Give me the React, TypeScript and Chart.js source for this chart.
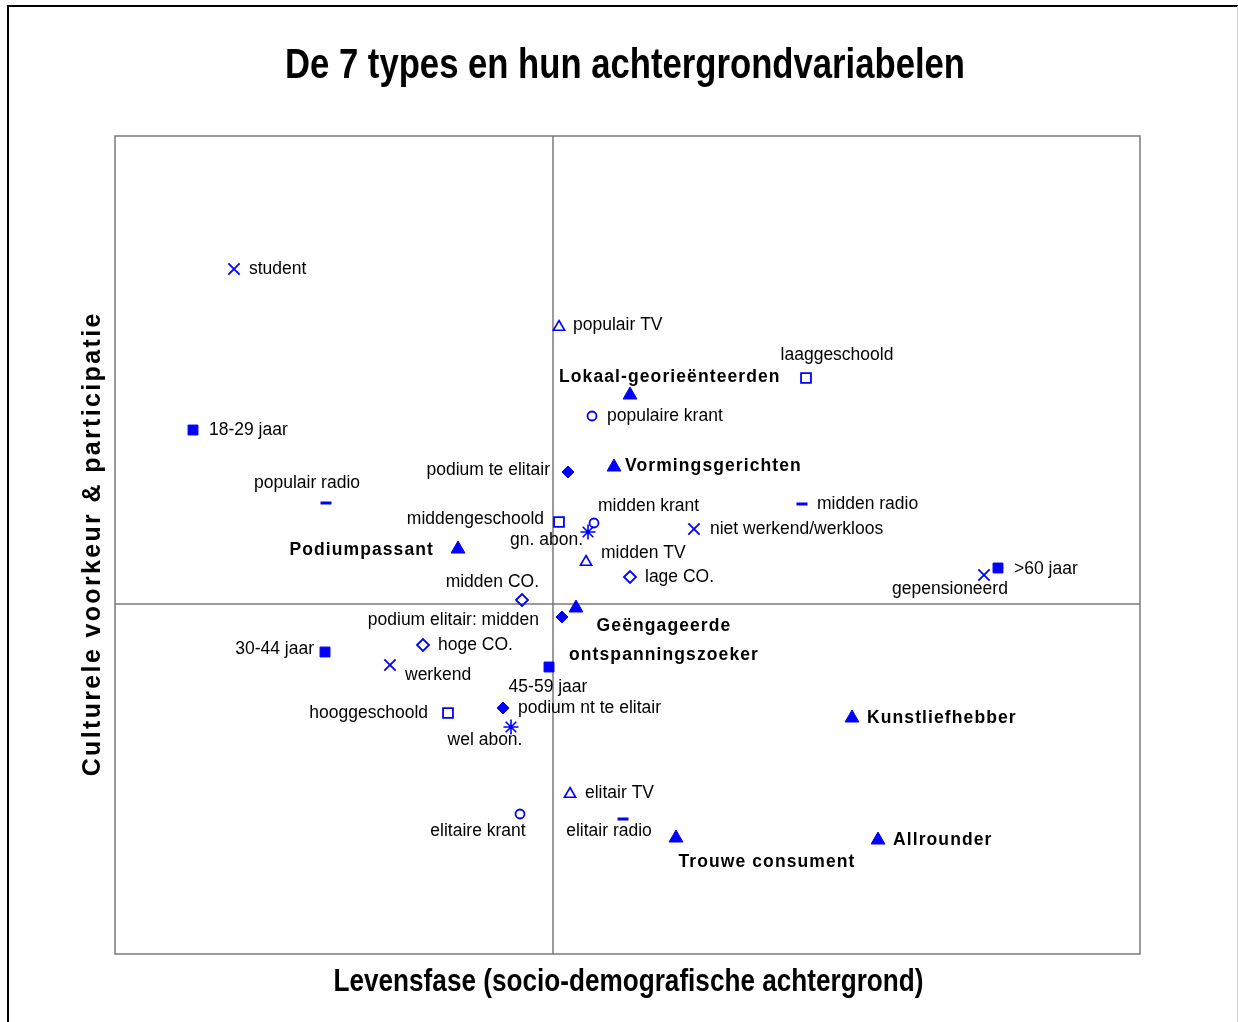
import React, { useEffect, useRef } from 'react';
import { Chart, registerables } from 'chart.js';
Chart.register(...registerables);

const TITLE = 'De 7 types en hun achtergrondvariabelen';
const X_TITLE = 'Levensfase (socio-demografische achtergrond)';
const Y_TITLE = 'Culturele voorkeur & participatie';

const X_MIN = -4.38;
const X_MAX = 5.87;
const Y_MIN = -3.5;
const Y_MAX = 4.68;

// Leeftijd (filled square)
const ageLabels = ['18-29 jaar', '30-44 jaar', '45-59 jaar', '>60 jaar'];
const ageX = [-3.6, -2.28, -0.04, 4.45];
const ageY = [1.74, -0.48, -0.63, 0.36];

// Beroep (X)
const jobLabels = ['student', 'werkend', 'niet werkend/werkloos', 'gepensioneerd'];
const jobX = [-3.19, -1.63, 1.41, 4.31];
const jobY = [3.35, -0.61, 0.75, 0.29];

// Opleiding (open square)
const eduLabels = ['laaggeschoold', 'middengeschoold', 'hooggeschoold'];
const eduX = [2.53, 0.06, -1.05];
const eduY = [2.26, 0.82, -1.09];

// TV (open triangle)
const tvLabels = ['populair TV', 'midden TV', 'elitair TV'];
const tvX = [0.06, 0.33, 0.17];
const tvY = [2.77, 0.42, -1.9];

// Krant (open circle)
const krantLabels = ['populaire krant', 'midden krant', 'elitaire krant'];
const krantX = [0.39, 0.41, -0.33];
const krantY = [1.88, 0.81, -2.1];

// Radio (dash)
const radioLabels = ['populair radio', 'midden radio', 'elitair radio'];
const radioX = [-2.27, 2.49, 0.7];
const radioY = [1.01, 1.0, -2.15];

// Podium (filled diamond)
const podiumLabels = ['podium te elitair', 'podium elitair: midden', 'podium nt te elitair'];
const podiumX = [0.15, 0.09, -0.5];
const podiumY = [1.32, -0.13, -1.04];

// CO (open diamond)
const coLabels = ['lage CO.', 'midden CO.', 'hoge CO.'];
const coX = [0.77, -0.31, -1.3];
const coY = [0.27, 0.04, -0.41];

// Abonnement (star)
const abonLabels = ['gn. abon.', 'wel abon.'];
const abonX = [0.35, -0.42];
const abonY = [0.72, -1.23];

// De 7 types (filled triangle)
const typeLabels = [
  'Lokaal-georieënteerden',
  'Vormingsgerichten',
  'Podiumpassant',
  'Geëngageerde\nontspanningszoeker',
  'Kunstliefhebber',
  'Trouwe consument',
  'Allrounder',
];
const typeX = [0.77, 0.61, -0.95, 0.23, 2.99, 1.23, 3.25];
const typeY = [2.09, 1.37, 0.55, -0.04, -1.14, -2.34, -2.36];

// label placement (pixel offsets from marker, alignment)
const LABEL_PLACEMENT: Record<string, [number, number, CanvasTextAlign]> = {
  'student': [15, 0, 'left'],
  '18-29 jaar': [16, 0, 'left'],
  'populair radio': [-19, -20, 'center'],
  'Podiumpassant': [-24, 1, 'right'],
  'middengeschoold': [-15, -3, 'right'],
  'gn. abon.': [-5, 8, 'right'],
  'midden krant': [4, -17, 'left'],
  'niet werkend/werkloos': [16, 0, 'left'],
  'midden radio': [15, 0, 'left'],
  'podium te elitair': [-18, -2, 'right'],
  'Vormingsgerichten': [11, -1, 'left'],
  'populaire krant': [15, 0, 'left'],
  'Lokaal-georieënteerden': [-71, -18, 'left'],
  'laaggeschoold': [31, -23, 'center'],
  'populair TV': [14, -2, 'left'],
  'midden TV': [15, -9, 'left'],
  'lage CO.': [15, 0, 'left'],
  'midden CO.': [17, -18, 'right'],
  '>60 jaar': [16, 1, 'left'],
  'gepensioneerd': [-34, 14, 'center'],
  'podium elitair: midden': [-23, 3, 'right'],
  'Geëngageerde\nontspanningszoeker': [88, 18, 'center'],
  '30-44 jaar': [-11, -3, 'right'],
  'hoge CO.': [15, 0, 'left'],
  'werkend': [15, 10, 'left'],
  '45-59 jaar': [-1, 20, 'center'],
  'hooggeschoold': [-20, 0, 'right'],
  'podium nt te elitair': [15, 0, 'left'],
  'wel abon.': [-26, 13, 'center'],
  'Kunstliefhebber': [15, 0, 'left'],
  'elitair TV': [15, -1, 'left'],
  'elitaire krant': [-42, 17, 'center'],
  'elitair radio': [-14, 12, 'center'],
  'Trouwe consument': [91, 24, 'center'],
  'Allrounder': [15, 0, 'left'],
};

const BLUE = '#0000ff';
const FONT = '"Liberation Sans", Arial, Helvetica, sans-serif';

function pts(xs: number[], ys: number[]) {
  return xs.map((x, i) => ({ x, y: ys[i] }));
}

function makeSet(label: string, labels: string[], xs: number[], ys: number[], style: any, filled: boolean, radius: number, bw: number, bold = false) {
  return {
    label,
    data: pts(xs, ys),
    pointLabels: labels,
    bold,
    pointStyle: style,
    pointRadius: radius,
    pointHoverRadius: radius,
    pointBackgroundColor: filled ? BLUE : 'rgba(0,0,0,0)',
    pointBorderColor: BLUE,
    pointBorderWidth: bw,
    backgroundColor: filled ? BLUE : 'rgba(0,0,0,0)',
    borderColor: BLUE,
    showLine: false,
  } as any;
}

const framePlugin = {
  id: 'frame',
  beforeDatasetsDraw(chart: any) {
    const { ctx, chartArea: a, scales } = chart;
    ctx.save();
    // outer frame
    ctx.strokeStyle = '#000';
    ctx.lineWidth = 2;
    ctx.beginPath();
    ctx.moveTo(8, 1022);
    ctx.lineTo(8, 6);
    ctx.lineTo(1238, 6);
    ctx.stroke();
    ctx.strokeStyle = '#d0d0d0';
    ctx.lineWidth = 1;
    ctx.beginPath();
    ctx.moveTo(1237.5, 6);
    ctx.lineTo(1237.5, 1022);
    ctx.stroke();
    // plot border
    ctx.strokeStyle = '#7a7a7a';
    ctx.lineWidth = 1.5;
    ctx.strokeRect(a.left, a.top, a.right - a.left, a.bottom - a.top);
    // zero lines
    const x0 = scales.x.getPixelForValue(0);
    const y0 = scales.y.getPixelForValue(0);
    ctx.beginPath();
    ctx.moveTo(x0, a.top);
    ctx.lineTo(x0, a.bottom);
    ctx.moveTo(a.left, y0);
    ctx.lineTo(a.right, y0);
    ctx.stroke();

    // title
    ctx.fillStyle = '#000';
    ctx.textBaseline = 'middle';
    ctx.textAlign = 'center';
    ctx.font = `bold 42px ${FONT}`;
    let w = ctx.measureText(TITLE).width;
    ctx.save();
    ctx.translate(625, 66);
    ctx.scale(680 / w, 1);
    ctx.fillText(TITLE, 0, 0);
    ctx.restore();

    // x title
    ctx.font = `bold 31px ${FONT}`;
    w = ctx.measureText(X_TITLE).width;
    ctx.save();
    ctx.translate((a.left + a.right) / 2 + 1, 982);
    ctx.scale(590 / w, 1);
    ctx.fillText(X_TITLE, 0, 0);
    ctx.restore();

    // y title
    ctx.font = `bold 25px ${FONT}`;
    w = ctx.measureText(Y_TITLE).width;
    const sp = (465 - w) / Y_TITLE.length;
    ctx.save();
    ctx.translate(93, (a.top + a.bottom) / 2);
    ctx.rotate(-Math.PI / 2);
    (ctx as any).letterSpacing = `${sp}px`;
    ctx.fillText(Y_TITLE, sp / 2, 0);
    ctx.restore();
    ctx.restore();
  },
  afterDatasetsDraw(chart: any) {
    const { ctx } = chart;
    ctx.save();
    ctx.fillStyle = '#000';
    ctx.textBaseline = 'middle';
    chart.data.datasets.forEach((ds: any, di: number) => {
      const meta = chart.getDatasetMeta(di);
      ds.pointLabels.forEach((text: string, i: number) => {
        const el = meta.data[i];
        const [dx, dy, align] = LABEL_PLACEMENT[text] || [14, 0, 'left'];
        if (ds.bold) {
          ctx.font = `bold 17.5px ${FONT}`;
          (ctx as any).letterSpacing = '1.1px';
        } else {
          ctx.font = `17.5px ${FONT}`;
          (ctx as any).letterSpacing = '0px';
        }
        ctx.textAlign = align;
        text.split('\n').forEach((line, li) => {
          ctx.fillText(line, el.x + dx, el.y + dy + li * 29);
        });
      });
    });
    ctx.restore();
  },
};

export default function App() {
  const ref = useRef<HTMLCanvasElement>(null);
  useEffect(() => {
    const chart = new Chart(ref.current as HTMLCanvasElement, {
      type: 'scatter',
      data: {
        datasets: [
          makeSet('leeftijd', ageLabels, ageX, ageY, 'rect', true, 7, 1),
          makeSet('beroep', jobLabels, jobX, jobY, 'crossRot', false, 8, 1.8),
          makeSet('opleiding', eduLabels, eduX, eduY, 'rect', false, 7, 1.8),
          makeSet('tv', tvLabels, tvX, tvY, 'triangle', false, 6.5, 1.6),
          makeSet('krant', krantLabels, krantX, krantY, 'circle', false, 4.5, 1.8),
          makeSet('radio', radioLabels, radioX, radioY, 'line', false, 5.5, 3),
          makeSet('podium', podiumLabels, podiumX, podiumY, 'rectRot', true, 6, 1),
          makeSet('co', coLabels, coX, coY, 'rectRot', false, 6, 1.8),
          makeSet('abon', abonLabels, abonX, abonY, 'star', false, 7.5, 1.6),
          makeSet('types', typeLabels, typeX, typeY, 'triangle', true, 8, 1, true),
        ],
      },
      options: {
        responsive: false,
        animation: false,
        devicePixelRatio: 1,
        layout: { padding: { left: 115, right: 98, top: 136, bottom: 68 } },
        scales: {
          x: { type: 'linear', min: X_MIN, max: X_MAX, display: false },
          y: { type: 'linear', min: Y_MIN, max: Y_MAX, display: false },
        },
        plugins: {
          legend: { display: false },
          tooltip: { enabled: false },
          title: { display: false },
        },
        events: [],
      },
      plugins: [framePlugin],
    });
    return () => chart.destroy();
  }, []);
  return (
    <canvas
      ref={ref}
      width={1238}
      height={1022}
      style={{ position: 'absolute', left: 0, top: 0, width: 1238, height: 1022, display: 'block' }}
    />
  );
}
